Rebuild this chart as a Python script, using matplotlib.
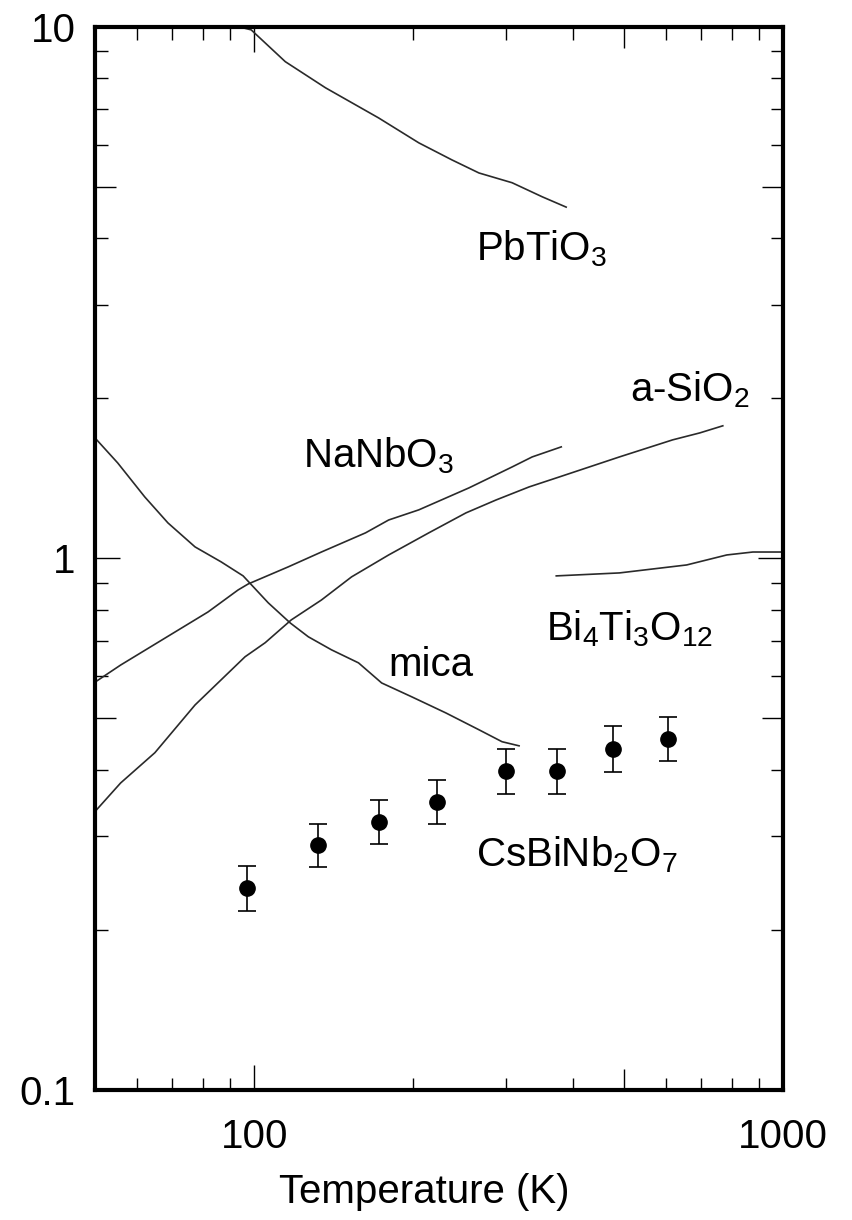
import numpy as np
import matplotlib
matplotlib.use("Agg")
import matplotlib.pyplot as plt
from matplotlib.ticker import FixedLocator, NullFormatter, FuncFormatter

plt.rcParams["font.family"] = ["Liberation Sans", "DejaVu Sans"]
plt.rcParams["mathtext.fontset"] = "custom"
plt.rcParams["mathtext.rm"] = "Liberation Sans"
plt.rcParams["mathtext.default"] = "regular"

# ---- literature curves (T in K, kappa in W/mK) ----
pbtio3_T = [90, 98.7, 114.5, 136.4, 171.9, 204.8, 236.5, 266.1, 307.4, 350.4, 389]
pbtio3_k = [10.1, 9.87, 8.60, 7.68, 6.74, 6.05, 5.62, 5.31, 5.09, 4.79, 4.58]

nanbo3_T = [50, 55.9, 81.8, 93.2, 97.4, 116, 134, 162.4, 179.6, 204.8, 254.7, 307.4, 335.5, 380.8]
nanbo3_k = [0.585, 0.630, 0.793, 0.872, 0.895, 0.964, 1.028, 1.117, 1.181, 1.234, 1.357, 1.486, 1.552, 1.621]

sio2_T = [50, 55.9, 64.9, 77.3, 96.1, 104.9, 117.5, 134, 152.8, 179.6, 213.9, 251.5,
          286.7, 331.1, 377.5, 490.6, 618.4, 695.9, 769.5]
sio2_k = [0.334, 0.378, 0.431, 0.530, 0.653, 0.694, 0.766, 0.835, 0.923, 1.015, 1.117, 1.218,
          1.288, 1.363, 1.423, 1.552, 1.671, 1.722, 1.776]

mica_T = [50, 55.2, 62.1, 68.7, 77.3, 86.6, 95.3, 106.3, 117, 126.6, 140, 157.5,
          174.2, 198.6, 230.4, 266.1, 294.2, 316.9]
mica_k = [1.685, 1.512, 1.305, 1.166, 1.051, 0.985, 0.927, 0.825, 0.756, 0.712, 0.673, 0.636,
          0.583, 0.549, 0.512, 0.476, 0.452, 0.444]

bit_T = [372.6, 490.6, 657.5, 782.9, 877, 1000]
bit_k = [0.927, 0.939, 0.972, 1.015, 1.028, 1.028]

# ---- measured CsBiNb2O7 ----
cs_T = [97, 132, 172, 222, 299, 374, 478, 605]
cs_k = [0.240, 0.289, 0.319, 0.348, 0.398, 0.398, 0.438, 0.457]
cs_hi = [0.264, 0.316, 0.351, 0.383, 0.437, 0.437, 0.484, 0.503]
cs_lo = [0.217, 0.263, 0.290, 0.316, 0.360, 0.360, 0.397, 0.416]

x_major = [100, 1000]
x_minor = [60, 70, 80, 90, 200, 300, 400, 500, 600, 700, 800, 900]
y_major = [0.1, 1, 10]
y_minor = [0.2, 0.3, 0.4, 0.5, 0.6, 0.7, 0.8, 0.9, 2, 3, 4, 5, 6, 7, 8, 9]

FS = 29
LINE = "#2a2a2a"

fig = plt.figure(figsize=(8.52, 12.2), dpi=100)
ax = fig.add_axes([0.1115, 0.1066, 0.8075, 0.8714])
ax.set_xscale("log")
ax.set_yscale("log")
ax.set_xlim(50, 1000)
ax.set_ylim(0.1, 10)

for T, k in [(pbtio3_T, pbtio3_k), (nanbo3_T, nanbo3_k), (sio2_T, sio2_k),
             (mica_T, mica_k), (bit_T, bit_k)]:
    ax.plot(T, k, color=LINE, lw=1.2, solid_joinstyle="round")

cs_k_arr = np.array(cs_k)
yerr = [cs_k_arr - np.array(cs_lo), np.array(cs_hi) - cs_k_arr]
ax.errorbar(cs_T, cs_k, yerr=yerr, fmt="o", color="black", ms=11,
            capsize=6.5, elinewidth=1.2, capthick=1.2)

# compound labels
ax.text(262.7, 3.64, r"PbTiO$_3$", fontsize=FS, va="baseline")
ax.text(512.6, 1.978, r"a-SiO$_2$", fontsize=FS, va="baseline")
ax.text(123.9, 1.48, r"NaNbO$_3$", fontsize=FS, va="baseline")
ax.text(179.6, 0.601, "mica", fontsize=FS, va="baseline")
ax.text(356.6, 0.6995, r"Bi$_4$Ti$_3$O$_{12}$", fontsize=FS, va="baseline")
ax.text(262.7, 0.263, r"CsBiNb$_2$O$_7$", fontsize=FS, va="baseline")

# ticks
fmt = FuncFormatter(lambda v, p: f"{v:g}")
ax.xaxis.set_major_locator(FixedLocator(x_major))
ax.xaxis.set_minor_locator(FixedLocator(x_minor))
ax.yaxis.set_major_locator(FixedLocator(y_major))
ax.yaxis.set_minor_locator(FixedLocator(y_minor))
ax.xaxis.set_major_formatter(fmt)
ax.yaxis.set_major_formatter(fmt)
ax.xaxis.set_minor_formatter(NullFormatter())
ax.yaxis.set_minor_formatter(NullFormatter())
ax.tick_params(which="both", direction="in", top=True, right=True, width=1.0, colors="black")
ax.tick_params(which="major", length=18, labelsize=FS)
ax.tick_params(which="minor", length=9)
ax.tick_params(axis="x", which="major", pad=20)
ax.tick_params(axis="y", which="major", pad=14)

for s in ax.spines.values():
    s.set_linewidth(3.0)

ax.set_xlabel("Temperature (K)", fontsize=FS)
ax.xaxis.set_label_coords(0.478, -0.078)

# the 5x ticks sit between minor and major in length
fig.canvas.draw()
for axis in (ax.xaxis, ax.yaxis):
    for t in axis.get_minor_ticks():
        v = t.get_loc()
        if v is not None and abs(np.log10(v) - np.round(np.log10(v)) - np.log10(5) + 1) < 1e-6:
            t.tick1line.set_markersize(15)
            t.tick2line.set_markersize(15)

fig.savefig("out.png", dpi=100)
